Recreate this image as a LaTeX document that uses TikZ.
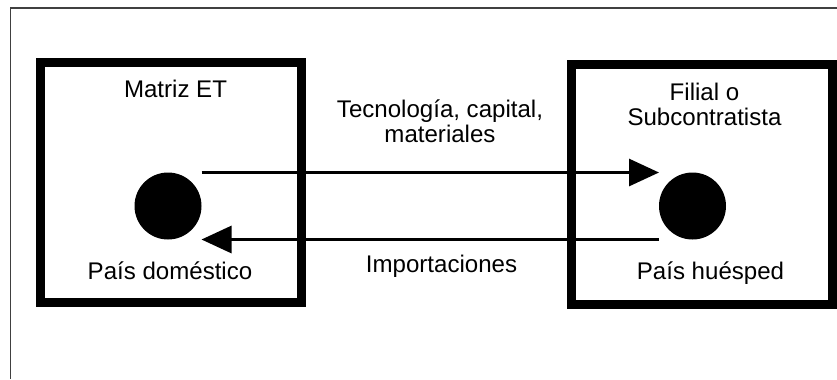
\documentclass[tikz,border=0pt]{standalone}
\usepackage{fontspec}
\setmainfont{Liberation Sans}
\usetikzlibrary{shapes.geometric, arrows.meta}
\tikzstyle{country} = [rectangle, minimum width=5.22cm, minimum height=4.8cm, line width=5pt, draw=black, inner sep=0pt]
\tikzstyle{firm} = [circle, minimum size=1.34cm, inner sep=0pt, outer sep=0pt, fill=black]
\tikzstyle{caption} = [inner sep=0pt, align=center, font=\fontsize{13.7}{14.2}\selectfont]
\tikzstyle{arrow} = [line width=1.7pt,-{Triangle[length=0.6cm,width=0.54cm]}]

\begin{document}
\begin{tikzpicture}
\useasboundingbox (0,0) rectangle (16.74,-7.58);
\draw [line width=1pt, black!75] (16.74,-0.156) -- (0.21,-0.156) -- (0.21,-7.58);

\node (home box) [country] at (3.42,-3.65) {};
\node (host box) [country] at (14.04,-3.69) {};
\node (home firm) [firm] at (3.36,-4.12) {};
\node (host firm) [firm] at (13.85,-4.12) {};

\node (home title) [caption, anchor=base] at (3.51,-1.94) {Matriz ET};
\node (home country) [caption, anchor=base] at (3.40,-5.58) {País doméstico};
\node (host title) [caption, anchor=south] at (14.09,-2.53) {Filial o\\Subcontratista};
\node (host country) [caption, anchor=base] at (14.21,-5.58) {País huésped};

\node (flow label) [caption, anchor=south] at (8.80,-2.86) {Tecnología, capital,\\materiales};
\node (import label) [caption, anchor=base] at (8.83,-5.45) {Importaciones};

\draw [arrow] (home firm.east |- home firm.north) -- (host firm.west |- host firm.north);
\draw [arrow] (host firm.west |- host firm.south) -- (home firm.east |- home firm.south);

\end{tikzpicture}
\end{document}
